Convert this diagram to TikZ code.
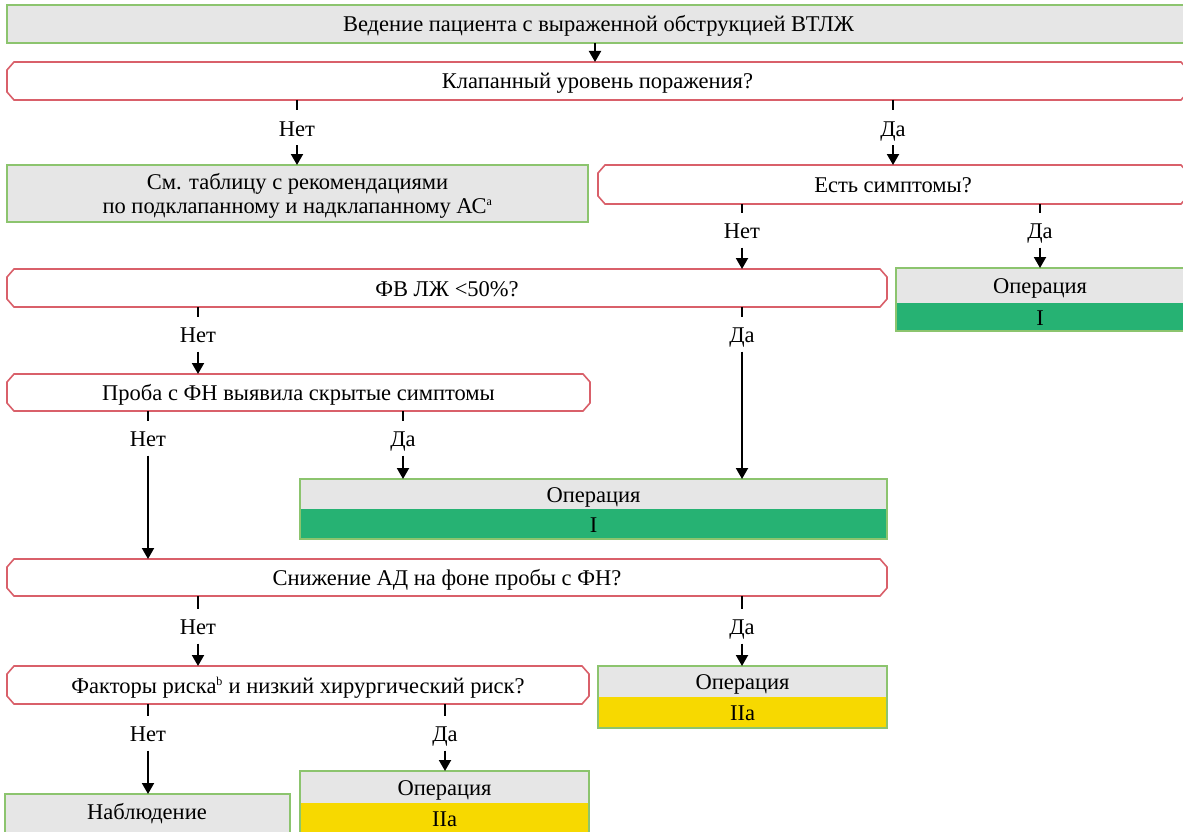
\documentclass[tikz,border=0pt]{standalone}
\usepackage{fontspec}
\setmainfont{Liberation Serif}
\usetikzlibrary{arrows.meta}
\definecolor{boxgray}{HTML}{E6E6E6}
\definecolor{boxgreen}{HTML}{8CC46E}
\definecolor{boxred}{HTML}{D9606A}
\definecolor{fillgreen}{HTML}{26B273}
\definecolor{fillyellow}{HTML}{F7D900}
\newcommand\fs{\fontsize{22.5}{24}\selectfont}
\newcommand\supfs{\fontsize{12}{12}\selectfont}
\newcommand\octa[1]{%
  \draw[redline] ([xshift=7pt]#1.north west) -- ([xshift=-7pt]#1.north east)
    -- ([yshift=-8pt]#1.north east) -- ([yshift=8pt]#1.south east)
    -- ([xshift=-7pt]#1.south east) -- ([xshift=7pt]#1.south west)
    -- ([yshift=8pt]#1.south west) -- ([yshift=-8pt]#1.north west) -- cycle;}
\begin{document}
\begin{tikzpicture}[x=1pt,y=-1pt,
  base/.style={inner sep=0pt, outer sep=0pt, font=\fs, align=center, anchor=north west},
  graybox/.style={base, fill=boxgray, draw=boxgreen, line width=1.6pt},
  graypart/.style={base, fill=boxgray},
  greenpart/.style={base, fill=fillgreen},
  yellowpart/.style={base, fill=fillyellow},
  qbox/.style={base},
  qtext/.style={font=\fs, inner sep=0pt, text height=16pt, text depth=0pt, align=center},
  redline/.style={draw=boxred, line width=1.6pt, fill=white},
  greenline/.style={draw=boxgreen, line width=1.6pt},
  lbl/.style={inner sep=0pt, outer sep=0pt, font=\fs, minimum height=35pt, text height=16pt, text depth=0pt},
  tk/.style={line width=2.6pt},
  arr/.style={line width=2pt, -{Triangle[width=12pt,length=11pt]}}]
\useasboundingbox (0,0) rectangle (1183,832);
\clip (0,0) rectangle (1183,832);

% boxes
\node[graybox, minimum width=1183pt, minimum height=38pt] (top) at (7,5) {};
\node[qtext] at (top.center) {Ведение пациента с выраженной обструкцией ВТЛЖ};
\node[qbox, minimum width=1181pt, minimum height=38pt] (q1) at (7,62) {};
\octa{q1}
\node[qtext] at (q1.center) {Клапанный уровень поражения?};

\node[graybox, minimum width=581pt, minimum height=57pt] (see) at (7,165) {};
\node[font=\fs, inner sep=0pt, align=center] at ([yshift=-2pt]see.center) {См. таблицу с рекомендациями\\ по подклапанному и надклапанному АС\textsuperscript{\supfs a}};

\node[qbox, minimum width=590pt, minimum height=39pt] (symp) at (598,165) {};
\octa{symp}
\node[qtext] at (symp.center) {Есть симптомы?};

\node[qbox, minimum width=880pt, minimum height=38pt] (fv) at (7,269) {};
\octa{fv}
\node[qtext] at (fv.center) {ФВ ЛЖ <50\%?};

\node[graypart, minimum width=288pt, minimum height=35pt] (op1t) at (896,268) {};
\node[qtext] at (op1t.center) {Операция};
\node[greenpart, minimum width=288pt, minimum height=28pt] (op1b) at (896,303) {};
\node[qtext] at (op1b.center) {I};
\draw[greenline] (op1t.north west) rectangle (op1b.south east);

\node[qbox, minimum width=583pt, minimum height=37pt] (proba) at (7,374) {};
\octa{proba}
\node[qtext] at (proba.center) {Проба с ФН выявила скрытые симптомы};

\node[graypart, minimum width=587pt, minimum height=30pt] (op2t) at (300,479) {};
\node[qtext] at (op2t.center) {Операция};
\node[greenpart, minimum width=587pt, minimum height=30pt] (op2b) at (300,509) {};
\node[qtext] at (op2b.center) {I};
\draw[greenline] (op2t.north west) rectangle (op2b.south east);

\node[qbox, minimum width=880pt, minimum height=37pt] (snizh) at (7,559) {};
\octa{snizh}
\node[qtext] at (snizh.center) {Снижение АД на фоне пробы с ФН?};

\node[qbox, minimum width=582pt, minimum height=38pt] (fact) at (7,666) {};
\octa{fact}
\node[qtext] at (fact.center) {Факторы риска\textsuperscript{\supfs b} и низкий хирургический риск?};

\node[graypart, minimum width=289pt, minimum height=31pt] (op3t) at (598,666) {};
\node[qtext] at (op3t.center) {Операция};
\node[yellowpart, minimum width=289pt, minimum height=31pt] (op3b) at (598,697) {};
\node[qtext] at (op3b.center) {IIa};
\draw[greenline] (op3t.north west) rectangle (op3b.south east);

\node[graybox, minimum width=285pt, minimum height=50pt] (nabl) at (5,794) {};
\node[qtext] at (147,811) {Наблюдение};

\node[graypart, minimum width=289pt, minimum height=32pt] (op4t) at (300,771) {};
\node[qtext] at (op4t.center) {Операция};
\node[yellowpart, minimum width=289pt, minimum height=40pt] (op4b) at (300,803) {};
\node[qtext] at (444.5,818) {IIa};
\draw[greenline] (op4t.north west) rectangle (op4b.south east);

% labels
\node[lbl] (n1) at (297,128) {Нет};
\node[lbl] (d1) at (893,128) {Да};
\node[lbl] (n2) at (742,230) {Нет};
\node[lbl] (d2) at (1040,230) {Да};
\node[lbl] (n3) at (198,334) {Нет};
\node[lbl] (d3) at (742,334) {Да};
\node[lbl] (n4) at (148,438) {Нет};
\node[lbl] (d4) at (403,438) {Да};
\node[lbl] (n5) at (198,626) {Нет};
\node[lbl] (d5) at (742,626) {Да};
\node[lbl] (n6) at (148,733) {Нет};
\node[lbl] (d6) at (445,733) {Да};

% connectors
\draw[arr] (top.south -| 595,0) -- (q1.north -| 595,0);
\foreach \l/\a/\b in {n1/q1/see, d1/q1/symp, n2/symp/fv, d2/symp/op1t, n3/fv/proba, d3/fv/op2t, n4/proba/snizh, d4/proba/op2t, n5/snizh/fact, d5/snizh/op3t, n6/fact/nabl, d6/fact/op4t}{
  \draw[tk] (\a.south -| \l.north) -- (\l.north);
  \draw[arr] (\l.south) -- (\b.north -| \l.south);
}
\end{tikzpicture}
\end{document}
